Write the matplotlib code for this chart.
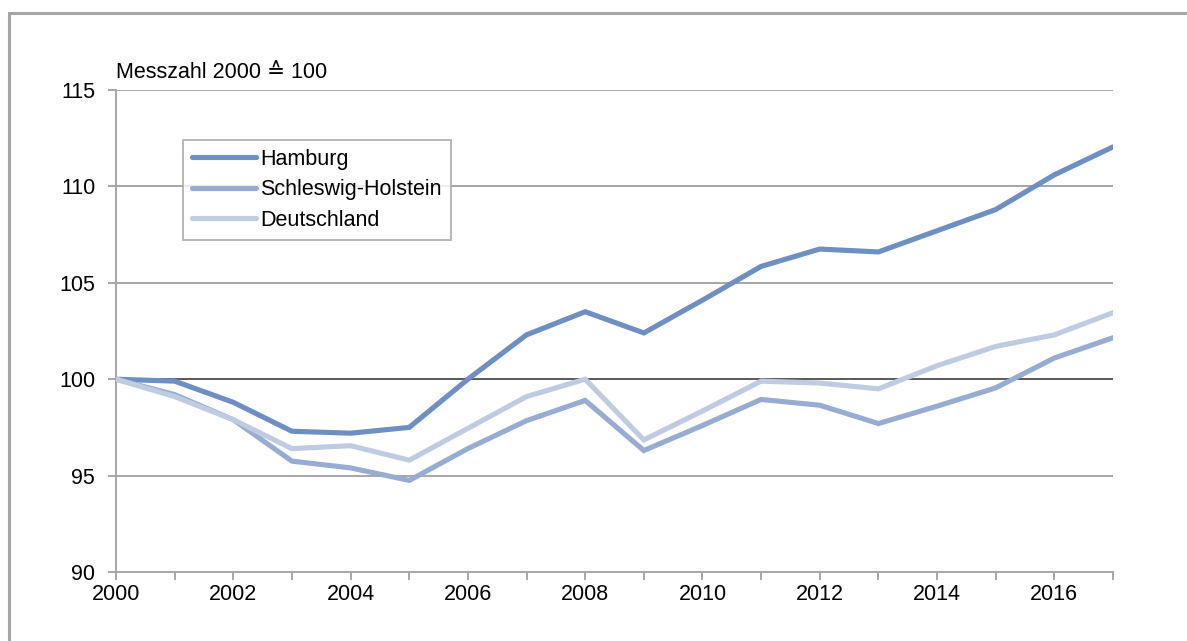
import matplotlib
matplotlib.use("Agg")
import matplotlib.pyplot as plt
from matplotlib.patches import Rectangle

plt.rcParams['font.family'] = ['Liberation Sans', 'DejaVu Sans']

years = list(range(2000, 2018))
hamburg = [100.0, 99.9, 98.8, 97.3, 97.2, 97.5, 100.0, 102.3, 103.5, 102.4,
           104.1, 105.85, 106.75, 106.6, 107.7, 108.8, 110.6, 112.05]
schleswig_holstein = [100.0, 99.2, 97.9, 95.75, 95.4, 94.75, 96.4, 97.85, 98.9, 96.3,
                      97.6, 98.95, 98.65, 97.7, 98.6, 99.55, 101.1, 102.15]
deutschland = [100.0, 99.1, 97.9, 96.4, 96.55, 95.8, 97.45, 99.1, 100.0, 96.85,
               98.35, 99.9, 99.8, 99.5, 100.7, 101.7, 102.3, 103.45]
series_names = ["Hamburg", "Schleswig-Holstein", "Deutschland"]
y_ticks = [90, 95, 100, 105, 110, 115]
x_labels = list(range(2000, 2017, 2))

colors = ["#6d8fc3", "#97acd3", "#bfcbe1"]
grid_grey = "#a6a6a6"
fs = 15.5

fig = plt.figure(figsize=(11.87, 6.41), dpi=100)
ax = fig.add_axes([116 / 1187, 1 - 572 / 641, (1113 - 116) / 1187, (572 - 90) / 641])

# outer frame (only left and top visible in the original)
fig.patches.append(Rectangle((9 / 1187, -0.1), 1.2, 1 - 13 / 641 + 0.1,
                             transform=fig.transFigure, fill=False,
                             edgecolor="#a6a6a6", linewidth=2.2))

for v in y_ticks:
    if v == 100:
        ax.axhline(v, color="#595959", linewidth=1.4, zorder=1)
    elif v != 90:
        ax.axhline(v, color=grid_grey, linewidth=1.4, zorder=1)

for vals, name, c in zip([hamburg, schleswig_holstein, deutschland], series_names, colors):
    ax.plot(years, vals, color=c, linewidth=3.7, label=name,
            solid_capstyle="round", solid_joinstyle="miter", zorder=3)

ax.set_xlim(2000, 2017)
ax.set_ylim(90, 115)
ax.set_yticks(y_ticks)
ax.set_xticks(years)
ax.set_xticklabels([str(y) if y in x_labels else "" for y in years])

for s in ["top", "right"]:
    ax.spines[s].set_visible(False)
for s in ["left", "bottom"]:
    ax.spines[s].set_color(grid_grey)
    ax.spines[s].set_linewidth(1.4)

ax.tick_params(axis="both", colors=grid_grey, labelcolor="black", labelsize=fs,
               length=6, width=1.4, direction="out")
ax.tick_params(axis="y", pad=9)
ax.tick_params(axis="x", pad=3)

ax.text(0.0, 1 + (90 - 73) / 482, "Messzahl 2000 \u2259 100", transform=ax.transAxes,
        fontsize=fs, ha="left", va="center")

leg = ax.legend(loc="upper left", bbox_to_anchor=((183 - 116) / 997, 1 - (140 - 90) / 482),
                fontsize=fs, frameon=True, fancybox=False, handlelength=3.0,
                handletextpad=0.2, borderpad=0.4, labelspacing=0.45, borderaxespad=0)
leg.get_frame().set_edgecolor(grid_grey)
leg.get_frame().set_linewidth(1.4)
leg.set_zorder(5)

fig.savefig("out.png", dpi=100, facecolor="white")
